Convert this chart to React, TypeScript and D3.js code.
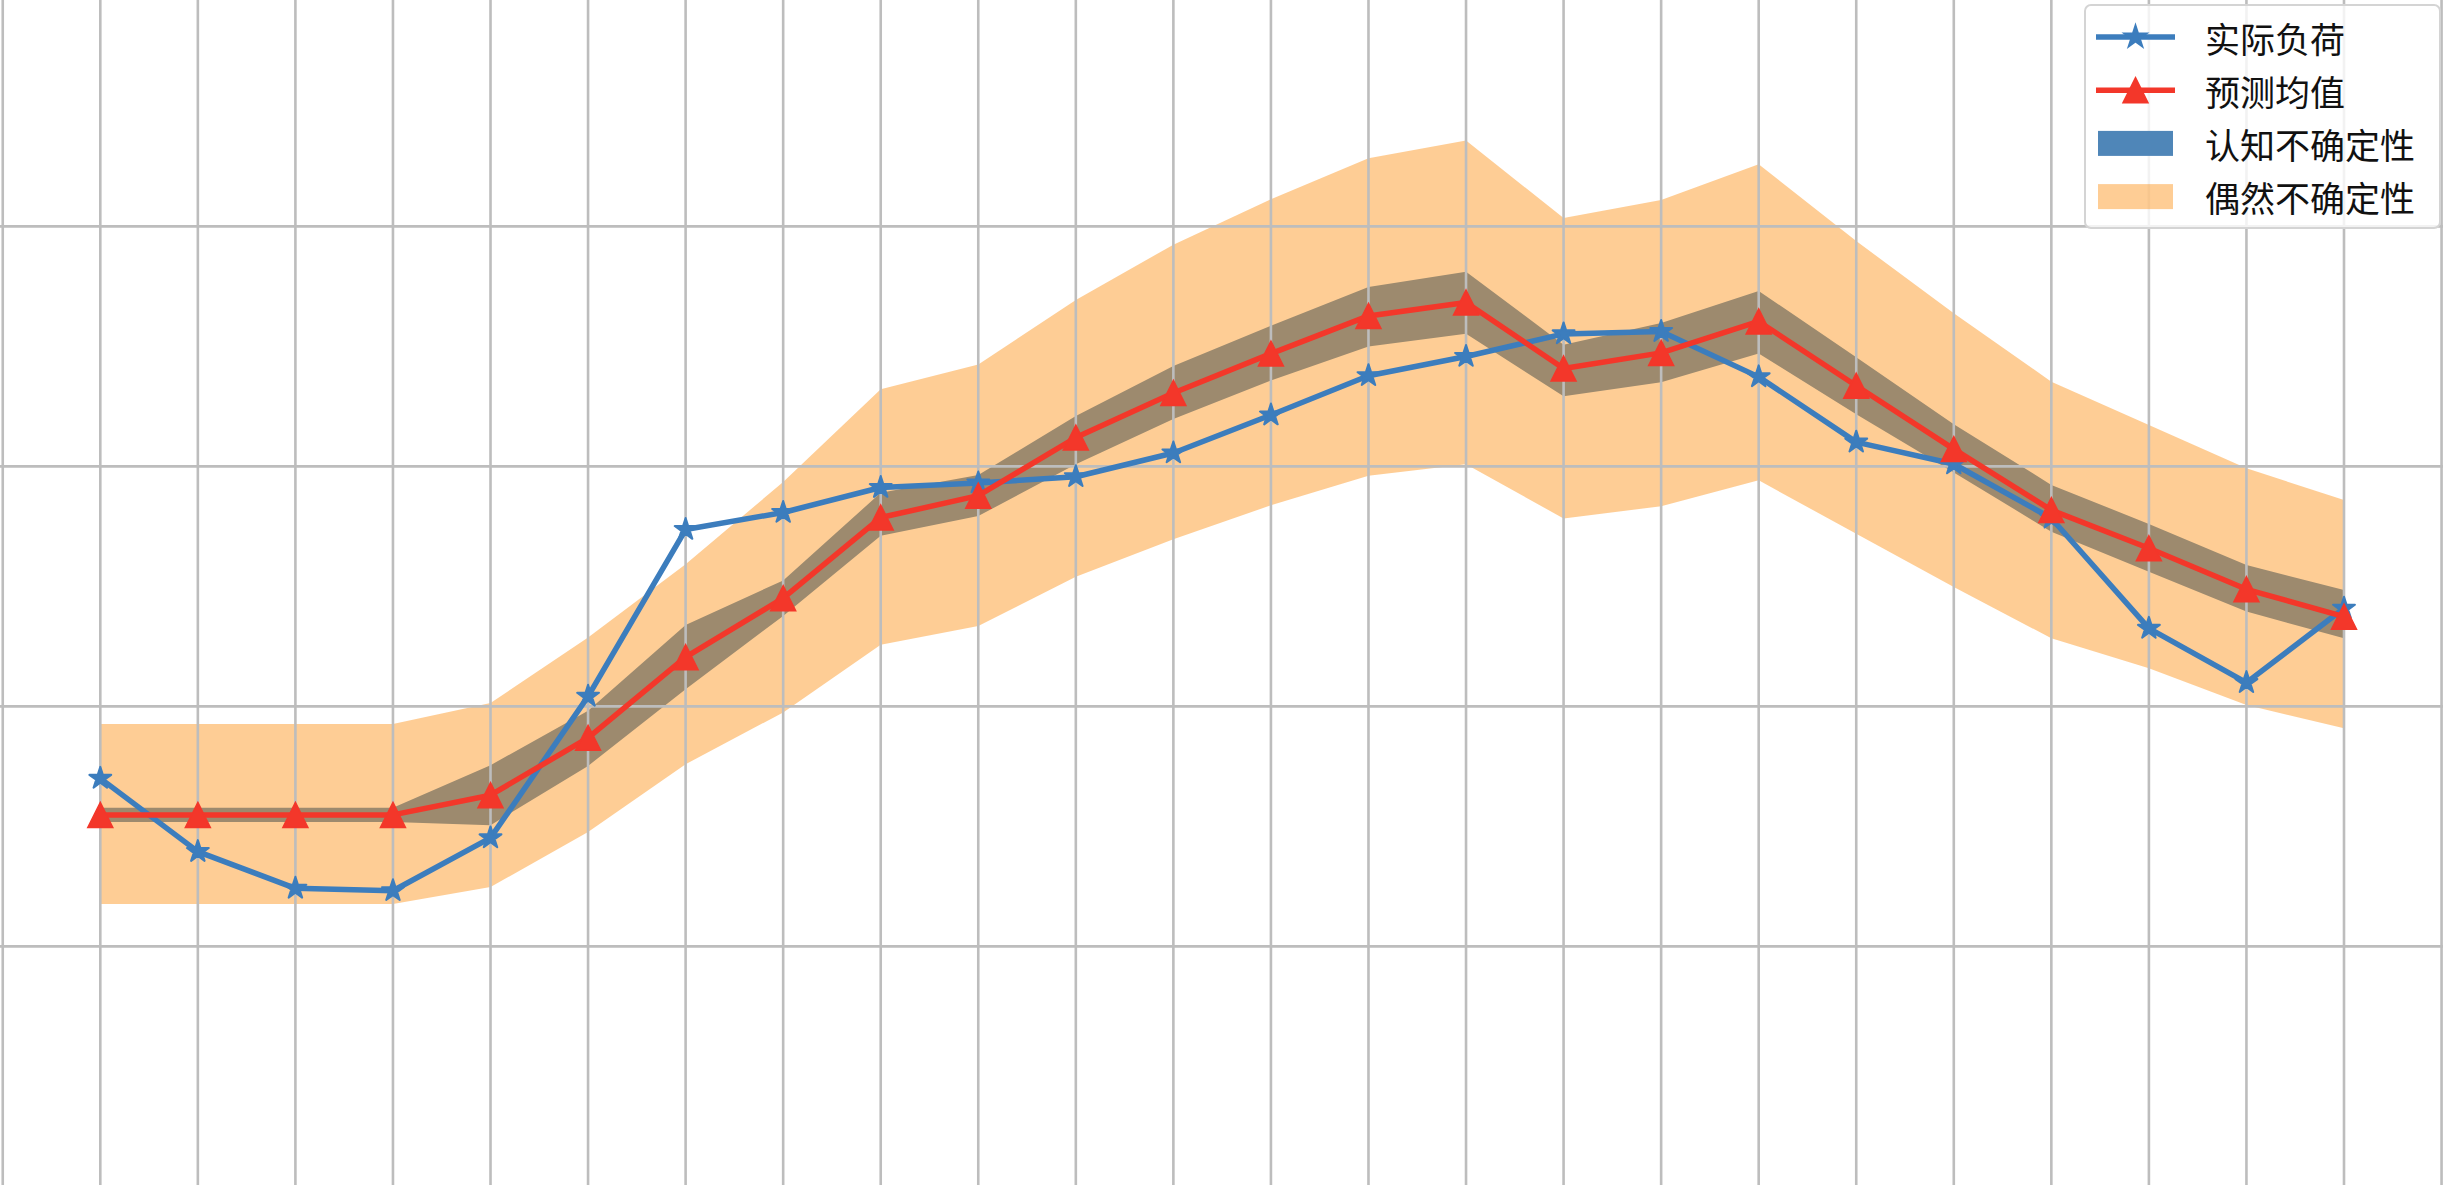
// App.tsx
// Load forecast with epistemic / aleatoric uncertainty bands (D3)
import { useEffect, useRef } from "react"
import * as d3 from "d3"

// hour index of each forecast step
const hours = d3.range(0, 24)

// 实际负荷
const actualLoad = [
  170, 139.5, 124.2, 123.2, 145.2, 204.2, 273.7, 280.8, 291.2, 293.1, 295.7, 305.6,
  321.4, 337.8, 345.8, 355.2, 356.2, 337.3, 310.1, 301, 278.4, 232.5, 209.9, 240.9
]

// 预测均值
const predMean = [
  154.8, 154.8, 154.8, 154.8, 163, 186.9, 220.5, 245.1, 278.7, 287.8, 312, 330.6,
  347, 362.7, 368.3, 340.8, 347.3, 360.4, 333.6, 307.2, 281.8, 265.9, 248.8, 237.4
]

// 认知不确定性 band
const epiLower = [
  151.8, 151.8, 151.8, 151.8, 150.5, 175.2, 207.1, 237.7, 271.1, 279.3, 300.9, 319.7,
  335.8, 350, 355.3, 329.2, 335.1, 347, 321.7, 297.5, 272.8, 256.1, 239.5, 228.4
]
const epiUpper = [
  157.8, 157.8, 157.8, 157.8, 175.5, 198.2, 233.9, 252.5, 289, 296.4, 321, 341.8,
  358.6, 374.8, 381.1, 350.7, 359.7, 373.1, 345.5, 317.6, 292.3, 276, 258.9, 248.5
]

// 偶然不确定性 band
const aleLower = [
  117.7, 117.7, 117.7, 117.7, 124.7, 147.7, 175.9, 197.5, 225.7, 233.5, 254, 269.6,
  283.8, 296.1, 300.9, 278.3, 283.4, 294.2, 271.9, 249.7, 228.4, 215.9, 200.6, 190.9
]
const aleUpper = [
  192.7, 192.7, 192.7, 192.7, 201.4, 228.7, 259.2, 293.5, 332.1, 342.5, 369.3, 392.4,
  411.3, 428.4, 435.8, 403.5, 411, 425.9, 393.9, 363.8, 335.3, 317.2, 299.2, 286
]

const xGridTicks = d3.range(-1, 25)
const yGridTicks = [0, 100, 200, 300, 400, 500]

const legendLabels = ["实际负荷", "预测均值", "认知不确定性", "偶然不确定性"]

const WIDTH = 2443
const HEIGHT = 1185
const BLUE = "#3c7dbd"
const RED = "#f3372a"
const EPI_BLUE = "#4f86b8"
const ALE_ORANGE = "#fd9013"
const ALE_ALPHA = 0.45
const GRID = "#bdbdbd"

function starPath(cx: number, cy: number, r: number) {
  const pts: [number, number][] = []
  for (let i = 0; i < 10; i++) {
    const rad = i % 2 === 0 ? r : r * 0.381966
    const a = -Math.PI / 2 + (i * Math.PI) / 5
    pts.push([cx + rad * Math.cos(a), cy + rad * Math.sin(a)])
  }
  return d3.line().curve(d3.curveLinearClosed)(pts) || ""
}

function trianglePath(cx: number, cy: number, h: number) {
  const pts: [number, number][] = [[cx, cy - h], [cx + h, cy + h], [cx - h, cy + h]]
  return d3.line().curve(d3.curveLinearClosed)(pts) || ""
}

export default function App() {
  const svgRef = useRef<SVGSVGElement>(null)

  useEffect(() => {
    if (!svgRef.current) return
    const svg = d3.select(svgRef.current)
    svg.selectAll("*").remove()

    const x = d3.scaleLinear().domain([0, 23]).range([100.3, 2344])
    const y = d3.scaleLinear().domain([100, 400]).range([946.4, 226.4])

    svg.append("rect").attr("width", WIDTH).attr("height", HEIGHT).attr("fill", "#ffffff")

    // Bands: epistemic first, aleatoric (semi-transparent) on top
    const band = (lo: number[], hi: number[]) =>
      d3.area<number>()
        .x(i => x(hours[i]))
        .y0(i => y(lo[i]))
        .y1(i => y(hi[i]))

    const idx = hours.map((_, i) => i)
    svg.append("path")
      .attr("d", band(epiLower, epiUpper)(idx))
      .attr("fill", EPI_BLUE)
    svg.append("path")
      .attr("d", band(aleLower, aleUpper)(idx))
      .attr("fill", ALE_ORANGE)
      .attr("fill-opacity", ALE_ALPHA)

    // Grid (above fills, below lines)
    const grid = svg.append("g")
    grid.selectAll("line.v")
      .data(xGridTicks)
      .enter().append("line")
      .attr("x1", d => x(d)).attr("x2", d => x(d))
      .attr("y1", 0).attr("y2", HEIGHT)
      .attr("stroke", GRID).attr("stroke-width", 2.6)
    grid.selectAll("line.h")
      .data(yGridTicks)
      .enter().append("line")
      .attr("y1", d => y(d)).attr("y2", d => y(d))
      .attr("x1", 0).attr("x2", WIDTH)
      .attr("stroke", GRID).attr("stroke-width", 2.6)

    const line = d3.line<number>().x((_, i) => x(hours[i])).y(d => y(d))

    // 实际负荷
    svg.append("path")
      .attr("d", line(actualLoad))
      .attr("fill", "none").attr("stroke", BLUE).attr("stroke-width", 5.5)
      .attr("stroke-linejoin", "round")
    svg.append("g").selectAll("path")
      .data(actualLoad)
      .enter().append("path")
      .attr("d", (d, i) => starPath(x(hours[i]), y(d), 11.5))
      .attr("fill", BLUE).attr("stroke", BLUE).attr("stroke-width", 2)
      .attr("stroke-linejoin", "round")

    // 预测均值
    svg.append("path")
      .attr("d", line(predMean))
      .attr("fill", "none").attr("stroke", RED).attr("stroke-width", 5.5)
      .attr("stroke-linejoin", "round")
    svg.append("g").selectAll("path")
      .data(predMean)
      .enter().append("path")
      .attr("d", (d, i) => trianglePath(x(hours[i]), y(d), 12.5))
      .attr("fill", RED).attr("stroke", RED).attr("stroke-width", 1.5)

    // Legend
    const lg = svg.append("g")
    lg.append("rect")
      .attr("x", 2085).attr("y", 5).attr("width", 355).attr("height", 223).attr("rx", 6)
      .attr("fill", "#ffffff").attr("fill-opacity", 0.8)
      .attr("stroke", "#d4d4d4").attr("stroke-width", 2)

    const rowY = (i: number) => 37 + i * 53.2
    const hx0 = 2096, hx1 = 2175, hxc = 2135.5

    lg.append("line").attr("x1", hx0).attr("x2", hx1).attr("y1", rowY(0)).attr("y2", rowY(0))
      .attr("stroke", BLUE).attr("stroke-width", 5.5)
    lg.append("path").attr("d", starPath(hxc, rowY(0), 11.5))
      .attr("fill", BLUE).attr("stroke", BLUE).attr("stroke-width", 2)

    lg.append("line").attr("x1", hx0).attr("x2", hx1).attr("y1", rowY(1)).attr("y2", rowY(1))
      .attr("stroke", RED).attr("stroke-width", 5.5)
    lg.append("path").attr("d", trianglePath(hxc, rowY(1), 12.5))
      .attr("fill", RED).attr("stroke", RED).attr("stroke-width", 1.5)

    lg.append("rect").attr("x", 2098).attr("y", rowY(2) - 12.5).attr("width", 75).attr("height", 25)
      .attr("fill", EPI_BLUE)
    lg.append("rect").attr("x", 2098).attr("y", rowY(3) - 12.5).attr("width", 75).attr("height", 25)
      .attr("fill", ALE_ORANGE).attr("fill-opacity", ALE_ALPHA)

    lg.selectAll("text")
      .data(legendLabels)
      .enter().append("text")
      .attr("x", 2205)
      .attr("y", (_, i) => rowY(i))
      .attr("dominant-baseline", "central")
      .attr("font-family", "'Noto Sans CJK SC', sans-serif")
      .attr("font-size", 35)
      .attr("fill", "#111111")
      .text(d => d)
  }, [])

  return (
    <svg
      ref={svgRef}
      width={WIDTH}
      height={HEIGHT}
      style={{ position: "absolute", left: 0, top: 0, display: "block" }}
    />
  )
}
